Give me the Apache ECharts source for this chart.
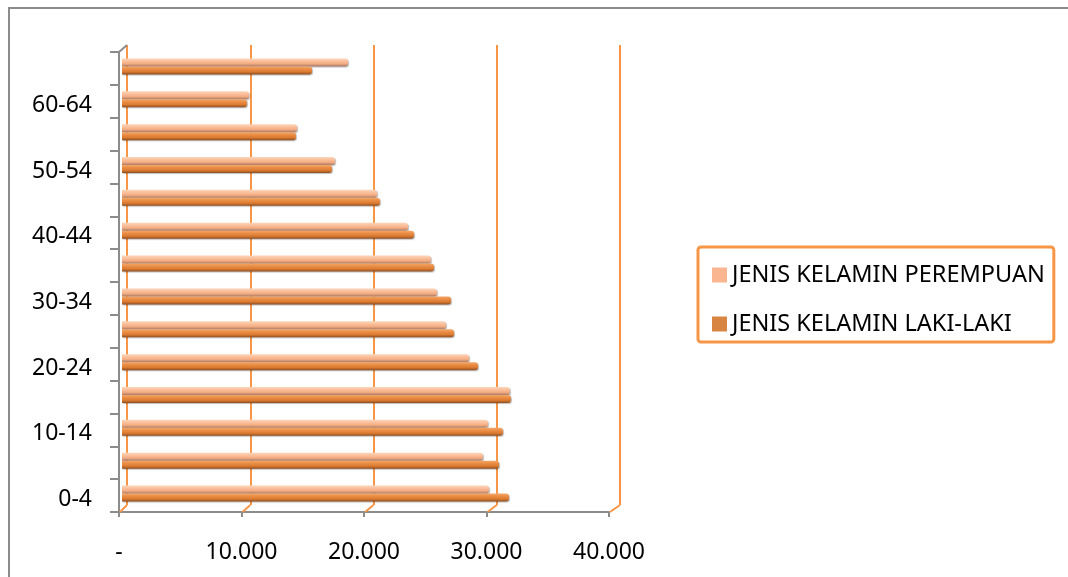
<!DOCTYPE html>
<html>
<head>
<meta charset="utf-8">
<script src="https://cdn.jsdelivr.net/npm/echarts@6/dist/echarts.min.js"></script>
<style>
  html, body { margin: 0; padding: 0; background: #fff; }
  #chart { width: 1068px; height: 577px; }
</style>
</head>
<body>
<div id="chart"></div>
<script>
// kelompok umur
const categories = ['0-4', '5-9', '10-14', '15-19', '20-24', '25-29', '30-34',
  '35-39', '40-44', '45-49', '50-54', '55-59', '60-64', '65+'];
const lakiLaki = [31590, 30780, 31100, 31750, 29060, 27100, 26860,
  25470, 23840, 21060, 17140, 14200, 10200, 15510];
const perempuan = [29960, 29470, 29870, 31670, 28330, 26450, 25710,
  25220, 23350, 20820, 17390, 14290, 10370, 18450];
const xTicks = [0, 10000, 20000, 30000, 40000];

const FONT = 'Noto Sans';
const ORANGE = '#F79646';
const GREY = '#8C8C8C';

function grad(stops) {
  return new echarts.graphic.LinearGradient(0, 0, 0, 1,
    stops.map((c, i) => ({ offset: i / (stops.length - 1), color: c })));
}

let chart = echarts.init(document.getElementById('chart'));

let option = {
  backgroundColor: '#fff',
  animation: false,
  legend: {
    left: 698,
    top: 247,
    orient: 'vertical',
    data: [
      { name: 'JENIS KELAMIN PEREMPUAN', itemStyle: { color: '#F9B690', shadowBlur: 0, shadowOffsetX: 0, shadowOffsetY: 0 } },
      { name: 'JENIS KELAMIN LAKI-LAKI', itemStyle: { color: '#D98542', shadowBlur: 0, shadowOffsetX: 0, shadowOffsetY: 0 } },
    ],
    itemWidth: 15,
    itemHeight: 15,
    itemGap: 25,
    padding: [16, 9, 6, 14],
    borderColor: ORANGE,
    borderWidth: 3,
    borderRadius: 3,
    icon: 'rect',
    textStyle: { fontFamily: FONT, fontSize: 23.5, color: '#000' },
  },
  grid: [
    // sumbu depan
    { left: 119, right: 459, top: 52, bottom: 65 },
    // dinding belakang (garis kisi)
    { left: 127, right: 448, top: 45, bottom: 72 },
    // batang
    { left: 122, right: 456, top: 50, bottom: 67 },
  ],
  xAxis: [
    {
      gridIndex: 0, type: 'value', min: 0, max: 40000, interval: 10000,
      axisLine: { show: true, lineStyle: { color: GREY, width: 2 } },
      axisTick: { show: true, length: 5, lineStyle: { color: GREY, width: 2 } },
      splitLine: { show: false },
      axisLabel: {
        margin: 29, fontFamily: FONT, fontSize: 23, color: '#000',
        formatter: v => v === 0 ? '-' : (v / 1000) + '.000',
      },
    },
    {
      gridIndex: 1, type: 'value', min: 0, max: 40000, interval: 10000,
      axisLine: { show: false }, axisTick: { show: false }, axisLabel: { show: false },
      splitLine: { show: true, lineStyle: { color: ORANGE, width: 2 } },
    },
    {
      gridIndex: 2, type: 'value', min: 0, max: 40000, show: false,
    },
  ],
  yAxis: [
    {
      gridIndex: 0, type: 'category', data: categories,
      axisLine: { show: true, lineStyle: { color: GREY, width: 2 } },
      axisTick: { show: true, interval: 0, length: 9, lineStyle: { color: GREY, width: 2 } },
      axisLabel: {
        interval: 1, margin: 27,
        formatter: v => '{a|' + v + '}',
        rich: { a: { fontFamily: FONT, fontSize: 23, color: '#000', padding: [8, 0, 0, 0] } },
      },
    },
    { gridIndex: 1, type: 'category', data: categories, show: false },
    { gridIndex: 2, type: 'category', data: categories, show: false },
  ],
  series: [
    {
      name: 'JENIS KELAMIN PEREMPUAN',
      type: 'bar',
      xAxisIndex: 2, yAxisIndex: 2,
      data: perempuan,
      barWidth: 8,
      barGap: '0%',
      itemStyle: {
        color: grad(['#FDD6BA', '#FAC09C', '#F4AB80', '#A77A66']),
        borderRadius: [0, 3, 3, 0],
        shadowColor: 'rgba(0,0,0,0.25)', shadowBlur: 1, shadowOffsetX: 1, shadowOffsetY: 1,
      },
    },
    {
      name: 'JENIS KELAMIN LAKI-LAKI',
      type: 'bar',
      xAxisIndex: 2, yAxisIndex: 2,
      data: lakiLaki,
      barWidth: 8,
      itemStyle: {
        color: grad(['#F4A769', '#EA8D45', '#DC7B31', '#8E4E22']),
        borderRadius: [0, 3, 3, 0],
        shadowColor: 'rgba(0,0,0,0.25)', shadowBlur: 1, shadowOffsetX: 1, shadowOffsetY: 1,
      },
    },
  ],
};

option && chart.setOption(option);

// garis miring penghubung dinding belakang ke sumbu depan + bingkai
let fr = chart.getModel().getComponent('grid', 0).coordinateSystem.getRect();
let br = chart.getModel().getComponent('grid', 1).coordinateSystem.getRect();
let graphics = [{
  type: 'rect', silent: true,
  shape: { x: 9, y: 8, width: 1100, height: 620 },
  style: { fill: 'none', stroke: GREY, lineWidth: 2 },
}];
xTicks.forEach(v => {
  let back = chart.convertToPixel({ xAxisIndex: 1, yAxisIndex: 1 }, [v, 0]);
  let front = chart.convertToPixel({ xAxisIndex: 0, yAxisIndex: 0 }, [v, 0]);
  graphics.push({
    type: 'line', silent: true, z: 1,
    shape: { x1: back[0], y1: br.y + br.height, x2: front[0] + 1, y2: fr.y + fr.height },
    style: { stroke: ORANGE, lineWidth: 2 },
  });
});
graphics.push({
  type: 'line', silent: true,
  shape: { x1: fr.x, y1: fr.y, x2: br.x, y2: br.y },
  style: { stroke: GREY, lineWidth: 2 },
});
chart.setOption({ graphic: graphics });
window.addEventListener('resize', () => chart.resize());
</script>
</body>
</html>
